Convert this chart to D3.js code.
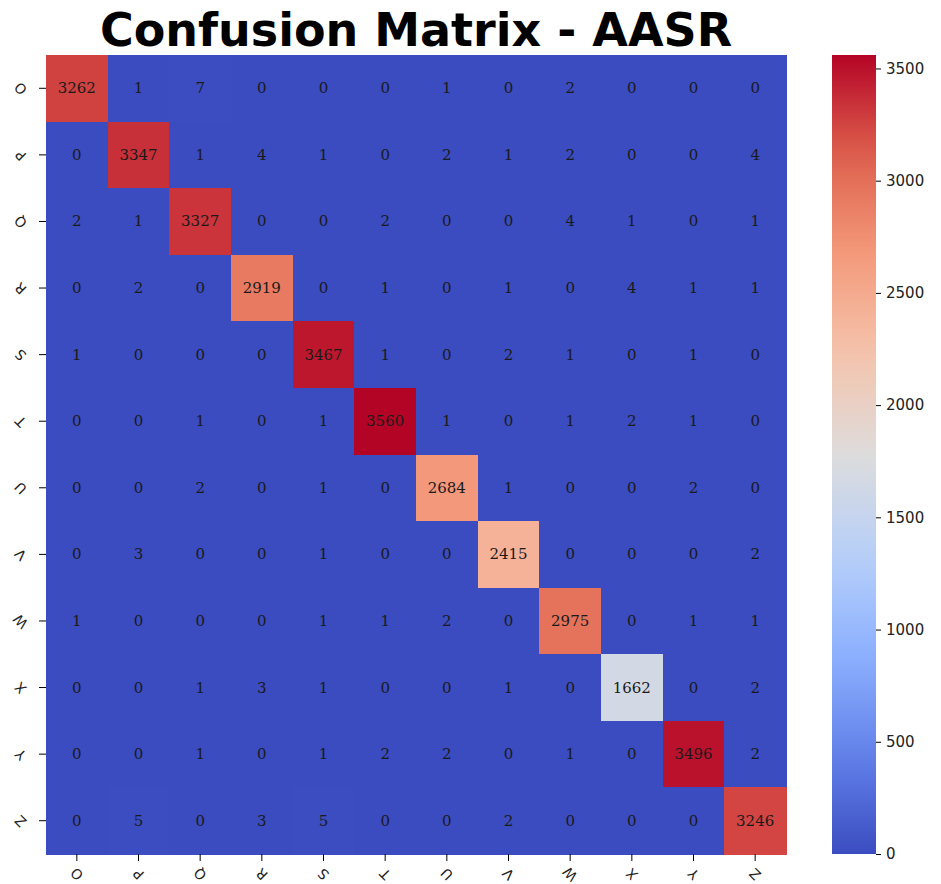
<!DOCTYPE html>
<html lang="en">
    <head>
        <meta charset="utf-8">
        <title>Confusion Matrix - AASR</title>
        <script type="text/javascript" src="https://cdn.jsdelivr.net/npm/d3@7"></script>
		<style type="text/css">
			body { margin: 0; background: white; }
			svg text { font-family: "DejaVu Sans", sans-serif; }
			svg .cell-label {
				font-family: "DejaVu Serif", serif;
				font-size: 15px;
				fill: #1a1a1a;
			}
			svg .tick text { font-size: 15px; fill: #222; }
			svg .cat-axis .tick text { font-size: 14px; }
		</style>
	</head>

	<body>
	<script type="text/javascript">
		// class labels
		var labels = ["O", "P", "Q", "R", "S", "T", "U", "V", "W", "X", "Y", "Z"];

		// rows = true label, columns = predicted
		var rowO = [3262, 1, 7, 0, 0, 0, 1, 0, 2, 0, 0, 0];
		var rowP = [0, 3347, 1, 4, 1, 0, 2, 1, 2, 0, 0, 4];
		var rowQ = [2, 1, 3327, 0, 0, 2, 0, 0, 4, 1, 0, 1];
		var rowR = [0, 2, 0, 2919, 0, 1, 0, 1, 0, 4, 1, 1];
		var rowS = [1, 0, 0, 0, 3467, 1, 0, 2, 1, 0, 1, 0];
		var rowT = [0, 0, 1, 0, 1, 3560, 1, 0, 1, 2, 1, 0];
		var rowU = [0, 0, 2, 0, 1, 0, 2684, 1, 0, 0, 2, 0];
		var rowV = [0, 3, 0, 0, 1, 0, 0, 2415, 0, 0, 0, 2];
		var rowW = [1, 0, 0, 0, 1, 1, 2, 0, 2975, 0, 1, 1];
		var rowX = [0, 0, 1, 3, 1, 0, 0, 1, 0, 1662, 0, 2];
		var rowY = [0, 0, 1, 0, 1, 2, 2, 0, 1, 0, 3496, 2];
		var rowZ = [0, 5, 0, 3, 5, 0, 0, 2, 0, 0, 0, 3246];
		var matrix = [rowO, rowP, rowQ, rowR, rowS, rowT, rowU, rowV, rowW, rowX, rowY, rowZ];

		var colorTicks = [0, 500, 1000, 1500, 2000, 2500, 3000, 3500];

		var w = 941;
		var h = 884;
		var gridLeft = 46, gridTop = 55, gridW = 740, gridH = 799;
		var cbX = 832, cbW = 44;
		var labelAngle = -135;

		var svg = d3.select("body")
					.append("svg")
					.attr("width", w).attr("height", h);

		// coolwarm colormap
		var vmax = d3.max(matrix, function (r) { return d3.max(r); });
		var cw = ["#3b4cc0", "#6282ea", "#8db0fe", "#b8d0f9", "#dddcdc", "#f5c4ad", "#f49a7b", "#de604d", "#b40426"];
		var color = d3.scaleLinear()
			.domain(cw.map(function (d, i) { return i / (cw.length - 1) * vmax; }))
			.range(cw)
			.interpolate(d3.interpolateRgb)
			.clamp(true);

		var x = d3.scaleBand().domain(labels).range([gridLeft, gridLeft + gridW]);
		var y = d3.scaleBand().domain(labels).range([gridTop, gridTop + gridH]);

		// cells
		var cells = [];
		matrix.forEach(function (row, i) {
			row.forEach(function (v, j) {
				cells.push({ r: labels[i], c: labels[j], v: v });
			});
		});

		svg.selectAll("rect.cell")
			.data(cells)
			.enter()
			.append("rect")
			.attr("class", "cell")
			.attr("x", function (d) { return x(d.c); })
			.attr("y", function (d) { return y(d.r); })
			.attr("width", x.bandwidth() + 1)
			.attr("height", y.bandwidth() + 1)
			.attr("shape-rendering", "crispEdges")
			.attr("fill", function (d) { return color(d.v); });

		svg.selectAll("text.cell-label")
			.data(cells)
			.enter()
			.append("text")
			.attr("class", "cell-label")
			.attr("text-anchor", "middle")
			.attr("dominant-baseline", "central")
			.attr("x", function (d) { return x(d.c) + x.bandwidth() / 2; })
			.attr("y", function (d) { return y(d.r) + y.bandwidth() / 2; })
			.text(function (d) { return d.v; });

		// axes (tick letters are turned, as in the source figure)
		var xAxis = svg.append("g")
			.attr("class", "cat-axis")
			.attr("transform", "translate(0," + (gridTop + gridH) + ")")
			.call(d3.axisBottom(x).tickSize(7).tickPadding(6));
		xAxis.select(".domain").remove();
		xAxis.selectAll(".tick text")
			.attr("y", 20)
			.attr("dy", "0.35em")
			.attr("transform", "rotate(" + labelAngle + ", 0, 20)");

		var yAxis = svg.append("g")
			.attr("class", "cat-axis")
			.attr("transform", "translate(" + gridLeft + ",0)")
			.call(d3.axisLeft(y).tickSize(7).tickPadding(6));
		yAxis.select(".domain").remove();
		yAxis.selectAll(".tick text")
			.attr("text-anchor", "middle")
			.attr("x", -25)
			.attr("transform", "rotate(" + labelAngle + ", -25, 0)");

		// colorbar
		var defs = svg.append("defs");
		var grad = defs.append("linearGradient")
			.attr("id", "cbgrad")
			.attr("x1", "0").attr("y1", "1").attr("x2", "0").attr("y2", "0");
		d3.range(0, 1.0001, 0.05).forEach(function (t) {
			grad.append("stop")
				.attr("offset", t)
				.attr("stop-color", color(t * vmax));
		});
		svg.append("rect")
			.attr("x", cbX).attr("y", gridTop)
			.attr("width", cbW).attr("height", gridH)
			.attr("fill", "url(#cbgrad)");

		var cbScale = d3.scaleLinear().domain([0, vmax]).range([gridTop + gridH, gridTop]);
		var cbAxis = svg.append("g")
			.attr("transform", "translate(" + (cbX + cbW) + ",0)")
			.call(d3.axisRight(cbScale).tickValues(colorTicks).tickFormat(d3.format("d")).tickSize(5).tickPadding(5));
		cbAxis.select(".domain").remove();

		// title
		svg.append("text")
			.attr("x", gridLeft + gridW / 2)
			.attr("y", 46)
			.attr("text-anchor", "middle")
			.style("font-weight", "bold")
			.style("font-size", "46px")
			.text("Confusion Matrix - AASR");
	</script>
	</body>
</html>
